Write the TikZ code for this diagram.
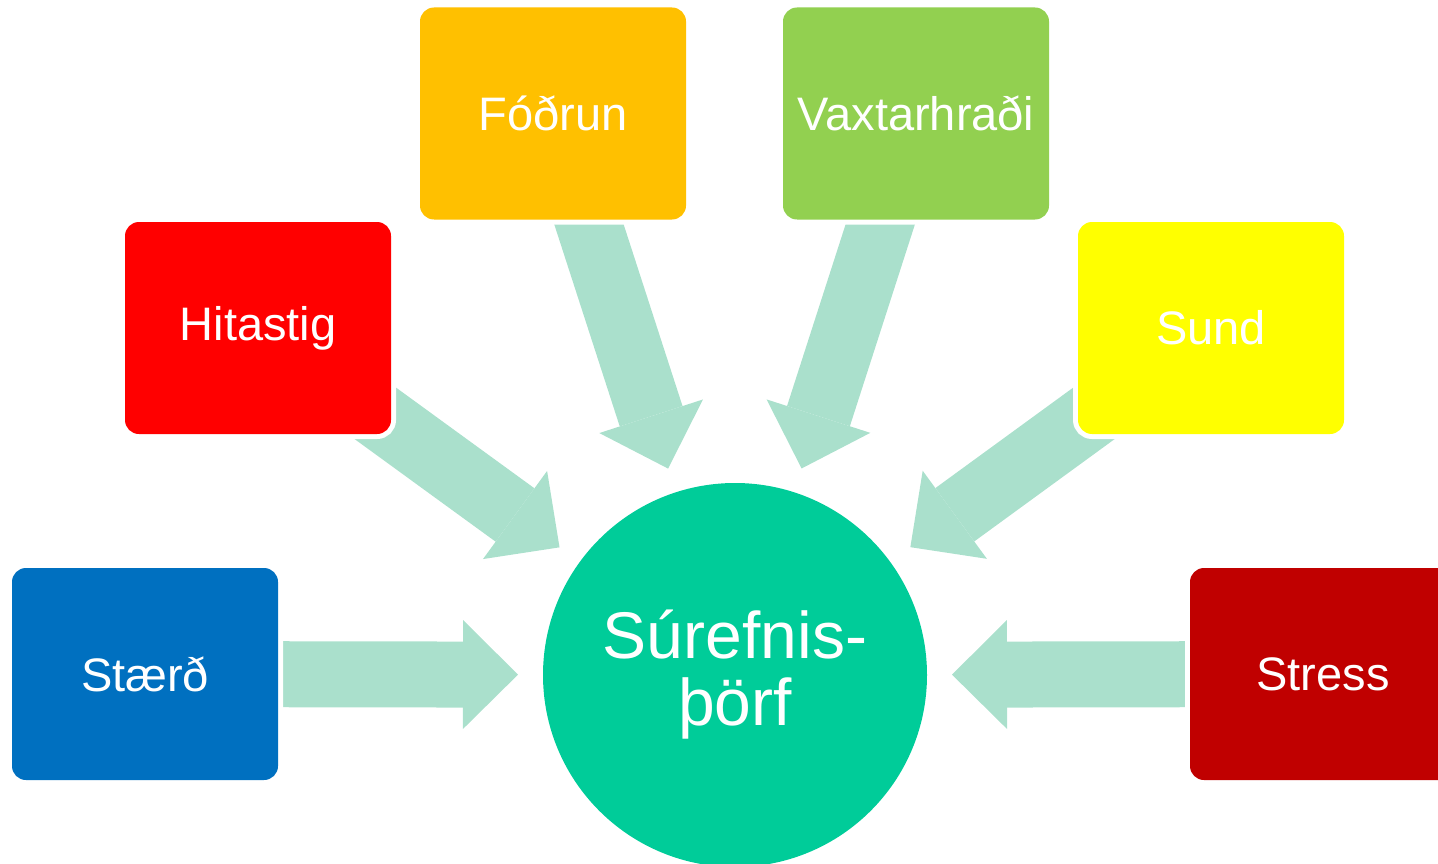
\documentclass[tikz,border=0pt]{standalone}
\usepackage{fontspec}
\setmainfont{Liberation Sans}
\usetikzlibrary{arrows.meta,positioning,backgrounds}
\definecolor{StaerdBlue}{RGB}{0,112,192}
\definecolor{HitiRed}{RGB}{255,0,0}
\definecolor{FodurGold}{RGB}{255,192,0}
\definecolor{VoxturGreen}{RGB}{146,208,80}
\definecolor{SundYellow}{RGB}{255,255,0}
\definecolor{StressRed}{RGB}{192,0,0}
\definecolor{SurefniTeal}{RGB}{0,204,153}
\definecolor{FlowMint}{RGB}{170,224,204}

\begin{document}
\begin{tikzpicture}[x=1pt,y=-1pt,
  factor/.style={rounded corners=14pt,minimum width=266pt,minimum height=212pt,
    inner sep=0pt,outer sep=0pt,text=white,font=\fontsize{47}{56}\selectfont,
    preaction={draw=white,line width=10pt}},
  flow/.style={draw=FlowMint,line width=66pt,shorten >=25pt,
    -{Triangle[width=109pt 0 0,length=55pt 0 0,line width=0pt 0 0]}}]
  \useasboundingbox (0,0) rectangle (1438,864);
  % the need in the middle
  \node[circle,fill=SurefniTeal,minimum size=384pt,inner sep=0pt,outer sep=0pt,
    text=white,align=center,font=\fontsize{66}{67}\selectfont] (sur) at (735,675) {S\'urefnis-\\\th\"orf};
  % what drives it
  \node[factor,fill=StaerdBlue] (staerd) at (145,674) {Stærð};
  \node[factor,fill=HitiRed] (hiti) at (258,328) {Hitastig};
  \node[factor,fill=FodurGold] (fodrun) at (553,113.5) {Fóðrun};
  \node[factor,fill=VoxturGreen] (voxtur) at (916,113.5) {Vaxtarhraði};
  \node[factor,fill=SundYellow] (sund) at (1211,328) {Sund};
  \node[factor,fill=StressRed] (stress) at (1323,674) {Stress};
  \begin{scope}[on background layer]
    \foreach \src in {staerd,hiti,fodrun,voxtur,sund,stress}
      \draw[flow] (\src.center) -- (sur);
  \end{scope}
\end{tikzpicture}
\end{document}
